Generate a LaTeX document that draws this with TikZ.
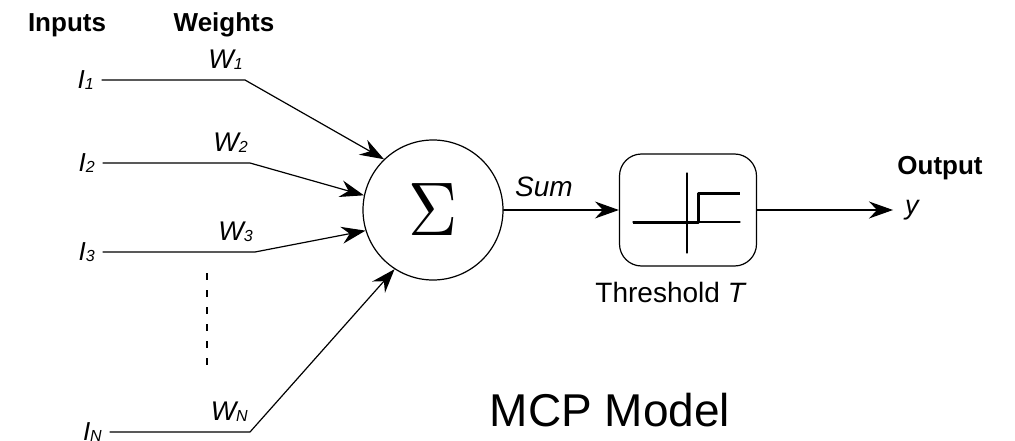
\documentclass[tikz,border=0pt]{standalone}
\usepackage{fontspec}
\setmainfont{Liberation Sans}
\usepackage{graphicx}
\usetikzlibrary{arrows.meta}
\usetikzlibrary{positioning}
\newcommand{\lowidx}[1]{\raisebox{-1.5pt}{\fontsize{16}{16}\selectfont #1}}
\tikzset{
  head/.style={anchor=base,inner sep=0pt,font=\fontsize{26}{28}\selectfont\bfseries},
  inlab/.style={anchor=east,inner ysep=0pt,inner xsep=8pt,font=\fontsize{26}{28}\selectfont\itshape},
  wlab/.style={inner sep=0pt,font=\fontsize{27}{29}\selectfont\itshape},
  wire/.style={line width=1.2pt},
  tip/.style={-{Stealth[length=24pt,width=17pt,inset=8pt]}}
}

\begin{document}
\begin{tikzpicture}[line cap=round,line join=round,x=1pt,y=-1pt]
\useasboundingbox (0,0) rectangle (1015,441);
% column heads
\node[head] (inputs) at (67,32) {Inputs};
\node[head] (weights) at (224,32) {Weights};
% summing unit and threshold
\node[draw,circle,wire,minimum size=140pt,inner sep=0pt] (sum) at (433,210) {\scalebox{6.8}[7.6]{$\Sigma$}};
\node[draw,wire,rounded corners=22pt,minimum width=137pt,minimum height=112pt] (thr) at (688,210) {};
\node[inner sep=0pt,font=\fontsize{28}{30}\selectfont,below=15pt of thr,xshift=-17pt] (thrlab) {Threshold \textit{T}};
% inputs and weights
\node[inlab] (i1) at (102,80) {I\lowidx{1}};
\node[inlab] (i2) at (103,163) {I\lowidx{2}};
\node[inlab] (i3) at (103,252) {I\lowidx{3}};
\node[inlab] (iN) at (110,432) {I\lowidx{N}};
\coordinate (w1) at (245,80);
\coordinate (w2) at (250,163);
\coordinate (w3) at (255,252);
\coordinate (wN) at (250,432);
\node[wlab,above left=10pt and 2pt of w1] (lw1) {W\lowidx{1}};
\node[wlab,above left=10pt and 2pt of w2] (lw2) {W\lowidx{2}};
\node[wlab,above left=10pt and 2pt of w3] (lw3) {W\lowidx{3}};
\node[wlab,above left=10pt and 2pt of wN] (lwN) {W\lowidx{N}};
\draw[wire,tip] (i1) -- (w1) -- (sum.134);
\draw[wire,tip] (i2) -- (w2) -- (sum.168);
\draw[wire,tip] (i3) -- (w3) -- (sum.197);
\draw[wire,tip] (iN) -- (wN) -- (sum.237);
\coordinate (dtop) at (207,273);
\coordinate (dbot) at (207,375);
\draw[wire,line cap=butt,dash pattern=on 7pt off 10pt] (dtop) -- (dbot);
% sum to threshold
\node[wlab,font=\fontsize{28}{30}\selectfont\itshape] (sumlab) at (544,187) {Sum};
\draw[wire,tip] (sum) -- (thr);
% step function
\begin{scope}[shift={(thr.center)}]
\draw[wire] (-55,12) -- (52,12);
\draw[wire] (-1,-37) -- (-1,43);
\draw[line width=3pt,line cap=butt] (-55,12) -- (10,12) -- (10,-17) -- (52,-17);
\end{scope}
% output
\coordinate (out) at (893,210);
\draw[wire,tip] (thr) -- (out);
\node[wlab,right=12pt of out] (ylab) {y};
\node[head] (outlab) at (940,175) {Output};
\node[inner sep=0pt,font=\fontsize{46}{50}\selectfont] (title) at (610,410) {MCP Model};
\end{tikzpicture}
\end{document}
